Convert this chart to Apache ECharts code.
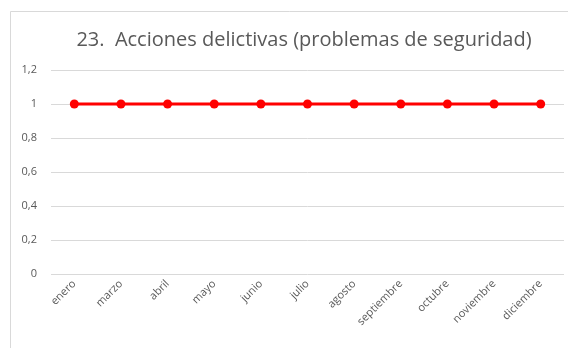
<!DOCTYPE html>
<html>
<head>
<meta charset="utf-8">
<style>
  html, body { margin: 0; padding: 0; background: #fff; }
  #chart { width: 568px; height: 348px; }
</style>
<script src="https://cdn.jsdelivr.net/npm/echarts@6/dist/echarts.min.js"></script>
</head>
<body>
<div id="chart"></div>
<script>
// Monthly counts of criminal incidents
const months = ['enero', 'marzo', 'abril', 'mayo', 'junio', 'julio', 'agosto', 'septiembre', 'octubre', 'noviembre', 'diciembre'];
const incidents = [1, 1, 1, 1, 1, 1, 1, 1, 1, 1, 1];
const titleText = '23.  Acciones delictivas (problemas de seguridad)';

const chart = echarts.init(document.getElementById('chart'), null, { renderer: 'canvas' });

chart.setOption({
  animation: false,
  backgroundColor: '#ffffff',
  textStyle: { fontFamily: 'Open Sans' },
  graphic: [{
    type: 'rect',
    shape: { x: 10.5, y: 11.5, width: 600, height: 400 },
    style: { fill: 'none', stroke: '#d9d9d9', lineWidth: 1 },
    silent: true,
    z: -1
  }],
  title: {
    text: titleText,
    left: 299,
    textAlign: 'center',
    top: 25,
    textStyle: { fontFamily: 'Open Sans', fontSize: 20, fontWeight: 'normal', color: '#595959' }
  },
  grid: { left: 51, right: 4, top: 70, bottom: 74 },
  xAxis: {
    type: 'category',
    data: months,
    boundaryGap: true,
    axisLine: { show: false },
    axisTick: { show: false },
    axisLabel: { rotate: 45, color: '#595959', fontSize: 11, margin: 8, interval: 0 }
  },
  yAxis: {
    type: 'value',
    min: 0,
    max: 1.2,
    interval: 0.2,
    axisLine: { show: false },
    axisTick: { show: false },
    splitLine: { lineStyle: { color: '#d9d9d9', width: 1 } },
    axisLabel: {
      color: '#595959',
      fontSize: 11,
      margin: 14,
      formatter: v => String(Math.round(v * 10) / 10).replace('.', ',')
    }
  },
  series: [{
    type: 'line',
    data: incidents,
    symbol: 'circle',
    symbolSize: 9,
    lineStyle: { color: '#ff0000', width: 3 },
    itemStyle: { color: '#ff0000' }
  }]
});
</script>
</body>
</html>
